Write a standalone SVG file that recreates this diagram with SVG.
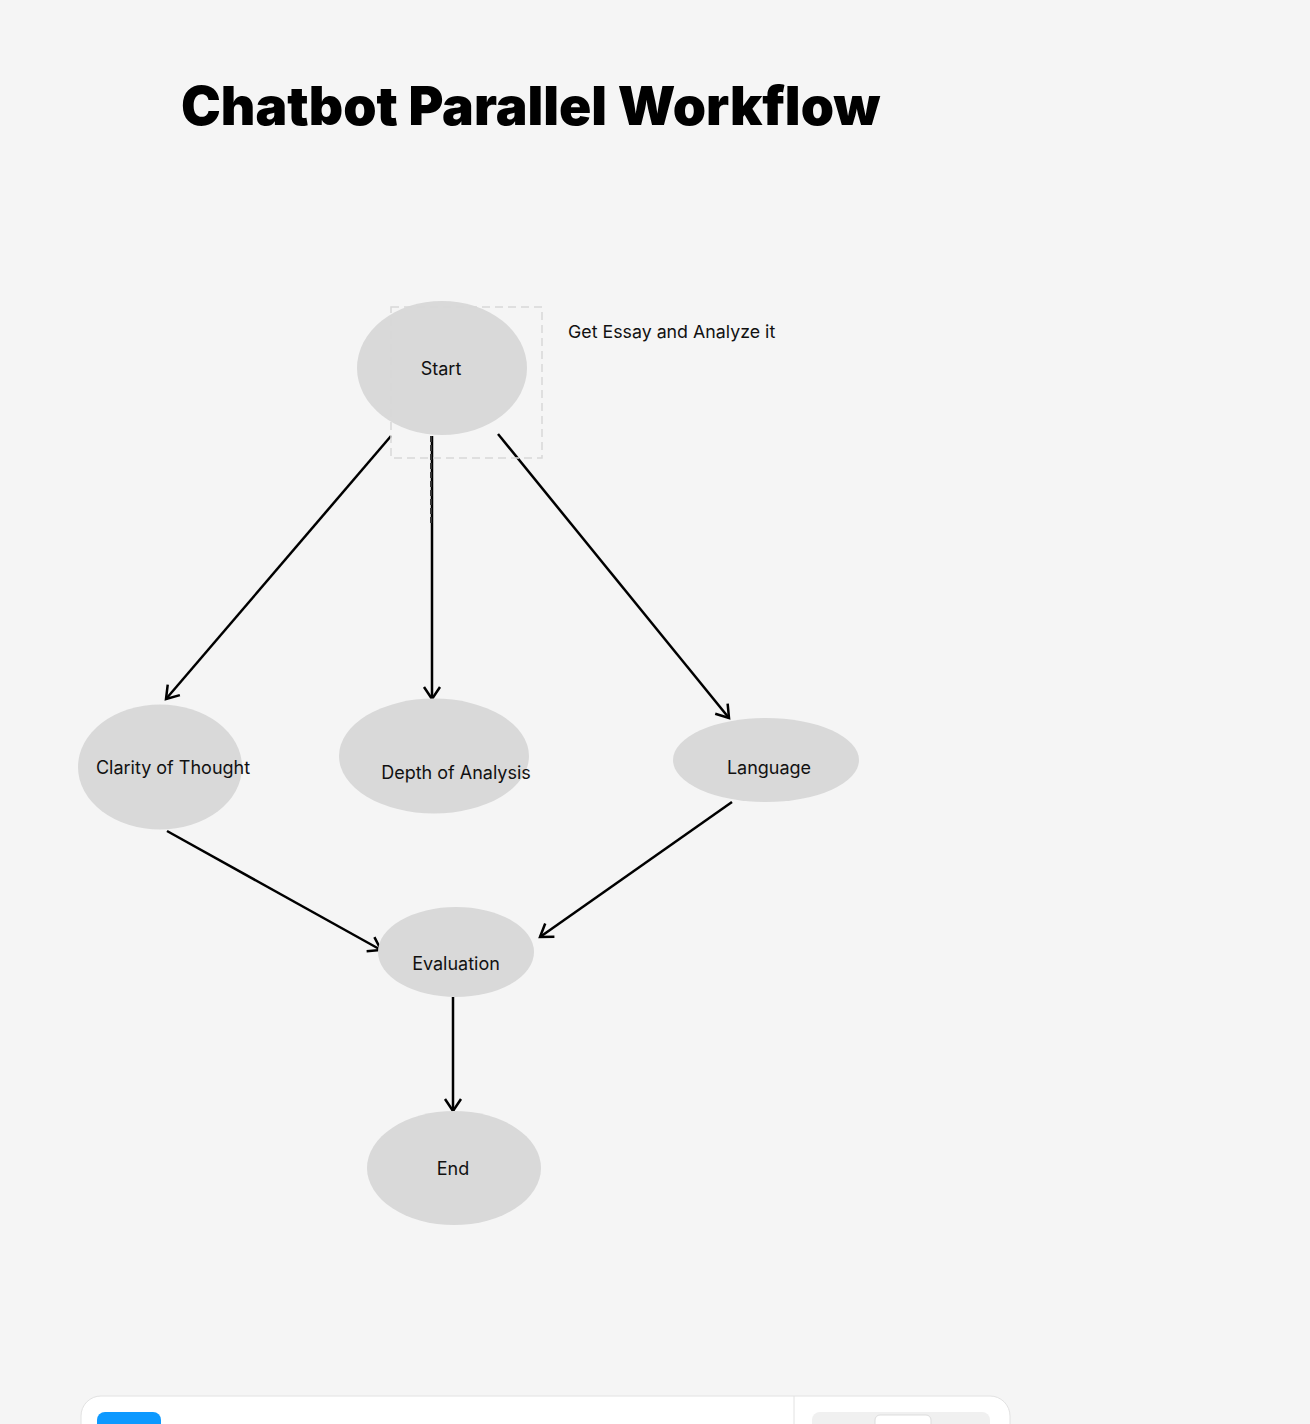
<svg xmlns="http://www.w3.org/2000/svg" width="1310" height="1424" viewBox="0 0 1310 1424">
<style>
.node{fill:#d9d9d9}
.lbl{font-family:Inter,"Liberation Sans",sans-serif;font-size:18px;fill:#111;text-anchor:middle}
.edge{stroke:#000;stroke-width:2.5;fill:none;marker-end:url(#arr)}
</style>
<defs>
<marker id="arr" viewBox="0 0 20 20" refX="17" refY="10" markerWidth="20" markerHeight="20" markerUnits="userSpaceOnUse" orient="auto">
<path d="M5,2 L17,10 L5,18" fill="none" stroke="#000" stroke-width="2.5"/>
</marker>
</defs>
<rect width="1310" height="1424" fill="#f5f5f5"/>
<text x="181" y="125" font-family="Inter,'Liberation Sans',sans-serif" font-weight="900" font-size="53.3" fill="#000">Chatbot Parallel Workflow</text>
<g id="connectors">
<line class="edge" x1="391" y1="436" x2="166" y2="699"/>
<line class="edge" x1="432" y1="436" x2="432" y2="699"/>
<line class="edge" x1="498" y1="434" x2="729" y2="718"/>
<line class="edge" x1="167" y1="831" x2="381" y2="950"/>
<line class="edge" x1="732" y1="802" x2="540" y2="937"/>
<line class="edge" x1="453" y1="997" x2="453" y2="1111"/>
<line x1="431" y1="436" x2="431" y2="525" stroke="#333" stroke-width="2" stroke-dasharray="6 3"/>
</g>
<g id="start"><ellipse class="node" cx="442" cy="368" rx="85" ry="67"/><text class="lbl" x="441" y="375">Start</text></g>
<rect x="391" y="307" width="151" height="151" fill="none" stroke="#d8d8d8" stroke-width="1.5" stroke-dasharray="8 5"/>
<g id="note"><text x="568" y="338" font-family="Inter,'Liberation Sans',sans-serif" font-size="17.8" fill="#111">Get Essay and Analyze it</text></g>
<g id="clarity"><ellipse class="node" cx="160" cy="767" rx="82" ry="62.5"/><text class="lbl" x="173" y="774">Clarity of Thought</text></g>
<g id="depth"><ellipse class="node" cx="434" cy="756" rx="95" ry="57.5"/><text class="lbl" x="456" y="779">Depth of Analysis</text></g>
<g id="language"><ellipse class="node" cx="766" cy="760" rx="93" ry="42"/><text class="lbl" x="769" y="774">Language</text></g>
<g id="evaluation"><ellipse class="node" cx="456" cy="952" rx="78" ry="45"/><text class="lbl" x="456" y="970">Evaluation</text></g>
<g id="end"><ellipse class="node" cx="454" cy="1168" rx="87" ry="57"/><text class="lbl" x="453" y="1175">End</text></g>
<g id="toolbar">
<rect x="81" y="1396" width="929" height="80" rx="20" fill="#fff" stroke="#e2e2e2" stroke-width="1"/>
<line x1="794" y1="1396" x2="794" y2="1424" stroke="#e2e2e2" stroke-width="1"/>
<rect x="97" y="1412" width="64" height="40" rx="8" fill="#0d99ff"/>
<rect x="812" y="1412" width="178" height="40" rx="8" fill="#f0f0f0"/>
<rect x="875" y="1415" width="56" height="30" rx="5" fill="#fff" stroke="#ddd" stroke-width="1"/>
</g>
</svg>
